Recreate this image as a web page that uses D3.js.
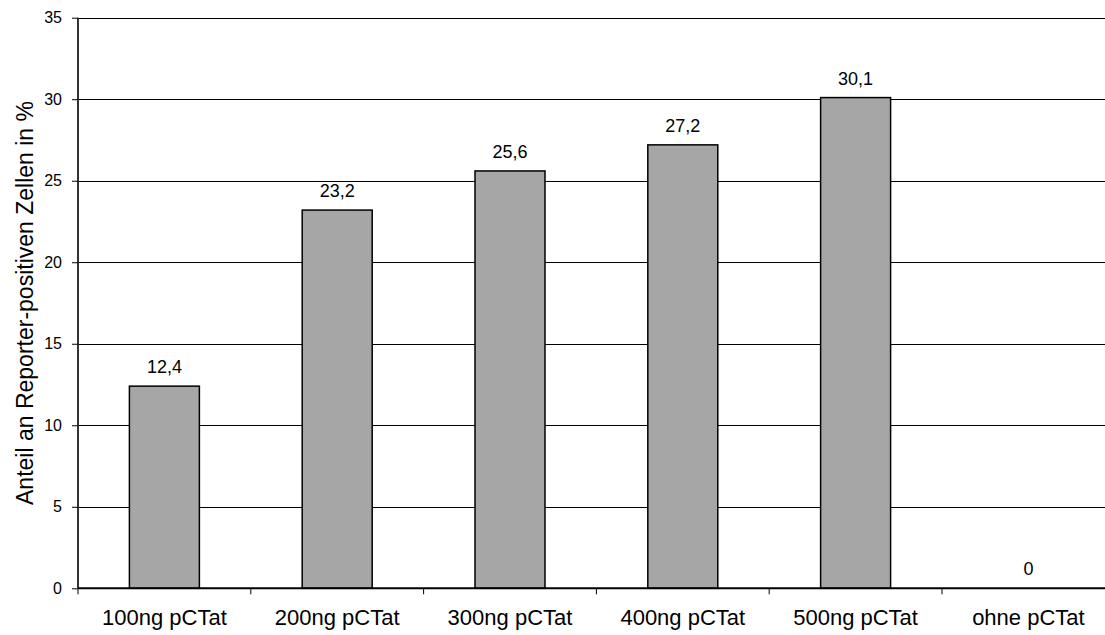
<!DOCTYPE html>
<html>
<head>
<meta charset="utf-8">
<script src="https://cdn.jsdelivr.net/npm/d3@7"></script>
<style>
  body { margin: 0; background: #fff; }
  text { font-family: "Liberation Sans", Arial, sans-serif; fill: #000; }
</style>
</head>
<body>
<svg id="chart" width="1105" height="635"></svg>
<script>
// data
var categories = ["100ng pCTat", "200ng pCTat", "300ng pCTat", "400ng pCTat", "500ng pCTat", "ohne pCTat"];
var values = [12.4, 23.2, 25.6, 27.2, 30.1, 0];
var labels = ["12,4", "23,2", "25,6", "27,2", "30,1", "0"];
var yTicks = [0, 5, 10, 15, 20, 25, 30, 35];

var svg = d3.select("#chart");
// plot box (note: "top" is reserved on window, so use plotTop)
var plotLeft = 78, plotTop = 17.7, plotBottom = 588.3;
var bandW = 172.8;
var plotRight = plotLeft + bandW * categories.length;

var x = d3.scaleBand().domain(categories).range([plotLeft, plotRight]).paddingInner(0.595).paddingOuter(0.2975);
var y = d3.scaleLinear().domain([0, 35]).range([plotBottom, plotTop]);

// gridlines
svg.append("g").selectAll("line").data(yTicks.slice(1)).join("line")
	.attr("x1", plotLeft).attr("x2", plotRight)
	.attr("y1", function(d){ return Math.round(y(d)) + 0.5; })
	.attr("y2", function(d){ return Math.round(y(d)) + 0.5; })
	.attr("stroke", "#000").attr("stroke-width", 1);

// bars
svg.append("g").selectAll("rect").data(values).join("rect")
	.attr("x", function(d, i){ return x(categories[i]); })
	.attr("width", x.bandwidth())
	.attr("y", function(d){ return y(d); })
	.attr("height", function(d){ return plotBottom - y(d); })
	.attr("fill", "#a6a6a6")
	.attr("stroke", "#000")
	.attr("stroke-width", 1.5)
	.style("display", function(d){ return d > 0 ? null : "none"; });

// value labels
svg.append("g").selectAll("text").data(values).join("text")
	.attr("x", function(d, i){ return x(categories[i]) + x.bandwidth() / 2; })
	.attr("y", function(d){ return y(d) - 13; })
	.attr("text-anchor", "middle")
	.style("font-size", "18px")
	.text(function(d, i){ return labels[i]; });

// y axis
var yAxis = svg.append("g").attr("transform", "translate(" + plotLeft + ",0)")
	.call(d3.axisLeft(y).tickValues(yTicks).tickSize(6).tickPadding(10).tickFormat(d3.format("d")));
yAxis.select(".domain").attr("stroke", "#333").attr("stroke-width", 2).attr("d", "M0," + plotTop + "V" + plotBottom);
yAxis.selectAll(".tick line").attr("stroke", "#000");
yAxis.selectAll("text").style("font-size", "16px").style("font-family", "'Liberation Sans', Arial, sans-serif");

// x axis
var xAxis = svg.append("g").attr("transform", "translate(0," + plotBottom + ")");
xAxis.append("line").attr("x1", plotLeft).attr("x2", plotRight).attr("stroke", "#000").attr("stroke-width", 2);
xAxis.selectAll(".bt").data(d3.range(categories.length + 1)).join("line")
	.attr("class", "bt")
	.attr("x1", function(i){ return plotLeft + i * bandW; })
	.attr("x2", function(i){ return plotLeft + i * bandW; })
	.attr("y1", 0).attr("y2", 6)
	.attr("stroke", "#000");
xAxis.selectAll("text").data(categories).join("text")
	.attr("x", function(d){ return x(d) + x.bandwidth() / 2; })
	.attr("y", 37)
	.attr("text-anchor", "middle")
	.style("font-size", "22px")
	.text(function(d){ return d; });

// y title
svg.append("text")
	.attr("transform", "translate(33," + ((plotTop + plotBottom) / 2) + ") rotate(-90)")
	.attr("text-anchor", "middle")
	.style("font-size", "23px")
	.text("Anteil an Reporter-positiven Zellen in %");
</script>
</body>
</html>
